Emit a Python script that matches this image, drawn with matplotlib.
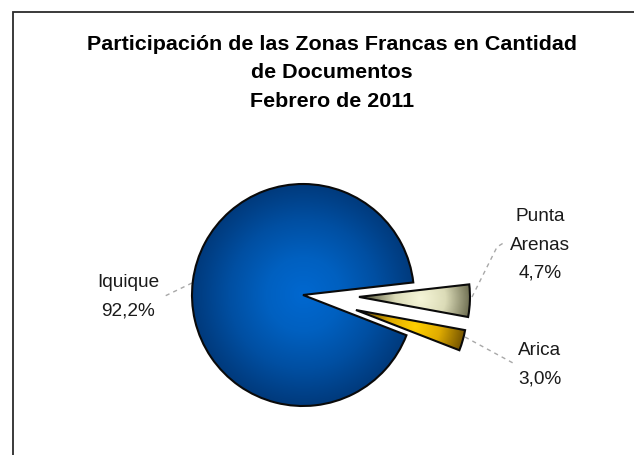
import numpy as np
import matplotlib
matplotlib.use("Agg")
import matplotlib.pyplot as plt
from matplotlib.colors import LinearSegmentedColormap

plt.rcParams['font.family'] = ['Liberation Sans', 'DejaVu Sans']

# data
zones = ['Punta\nArenas', 'Arica', 'Iquique']
shares = [4.7, 3.0, 92.2]
share_labels = ['4,7%', '3,0%', '92,2%']
title_lines = ['Participación de las Zonas Francas en Cantidad',
               'de Documentos',
               'Febrero de 2011']

W, H = 634, 455
PIE_X, PIE_Y, PIE_R = 303, H - 295, 111
EXPLODE = [56, 55, 0]

# center colour -> edge colour of each slice
shades = [['#f6f6d8', '#dcdcb8', '#6f6f52'],
          ['#ffd000', '#e0ac00', '#745400'],
          ['#0068d0', '#0060c0', '#004fa2', '#003a7c']]

fig = plt.figure(figsize=(W / 100, H / 100), dpi=100)
ax = fig.add_axes([0, 0, 1, 1])

wedges, _ = ax.pie(shares, radius=PIE_R, center=(PIE_X, PIE_Y), explode=EXPLODE,
                   startangle=6.5, counterclock=False, normalize=True,
                   wedgeprops={'linewidth': 1.5, 'edgecolor': '#0a0a0a'})

xx, yy = np.meshgrid(np.arange(0, W), np.arange(0, H))

# paint a radial gradient into each wedge
for w, sh in zip(wedges, shades):
    w.set_facecolor('none')
    w.set_zorder(3)
    cx, cy = w.center
    r = w.r
    if w.theta2 - w.theta1 < 180:
        tm = np.deg2rad((w.theta1 + w.theta2) / 2)
        gx = cx + 0.55 * r * np.cos(tm)
        gy = cy + 0.55 * r * np.sin(tm)
        reach = 0.45 * r
    else:
        gx, gy = cx, cy
        reach = r
    t = np.clip(np.hypot(xx - gx, yy - gy) / reach, 0, 1)
    cmap = LinearSegmentedColormap.from_list('s', sh)
    im = ax.imshow(t, cmap=cmap, vmin=0, vmax=1, origin='lower',
                   extent=(0, W, 0, H), zorder=2, interpolation='bilinear')
    im.set_clip_path(w)

ax.set_aspect('auto')
ax.set_xlim(0, W)
ax.set_ylim(0, H)
ax.set_axis_off()

# chart border (only top and left are visible in the crop)
ax.plot([13, 13, W], [0, H - 11.5, H - 11.5], color='#2b2b2b', lw=1.3, zorder=1,
        solid_joinstyle='miter')

# title, sized so the first line spans the same width as the reference
titles = []
for line, ty in zip(title_lines, [50, 78, 107]):
    titles.append(ax.text(332, H - ty, line, ha='center', va='baseline', fontsize=12,
                          fontweight='bold', color='black'))
rend = fig.canvas.get_renderer()
title_size = 12 * 486 / titles[0].get_window_extent(rend).width
for t_ in titles:
    t_.set_fontsize(title_size)

# labels, same thing with "Iquique"
label_lines = [(540, 221, 'Punta'), (540, 250, 'Arenas'), (540, 277, share_labels[0]),
               (540, 355, zones[1]), (540, 383, share_labels[1]),
               (128, 287, zones[2]), (128, 315, share_labels[2])]
labels = [ax.text(x, H - y, s, ha='center', va='baseline', fontsize=12, color='#1a1a1a')
          for x, y, s in label_lines]
label_size = 12 * 63 / labels[5].get_window_extent(rend).width
for t_ in labels:
    t_.set_fontsize(label_size)

# leader lines
leader = dict(color='#a8a8a8', lw=1, ls=(0, (3, 3)), zorder=1)
ax.plot([472, 497, 505], [H - 297, H - 247, H - 242], **leader)
ax.plot([465, 513], [H - 337, H - 363], **leader)
ax.plot([192, 165], [H - 283, H - 296], **leader)

fig.savefig('out.png', dpi=100, facecolor='white')
